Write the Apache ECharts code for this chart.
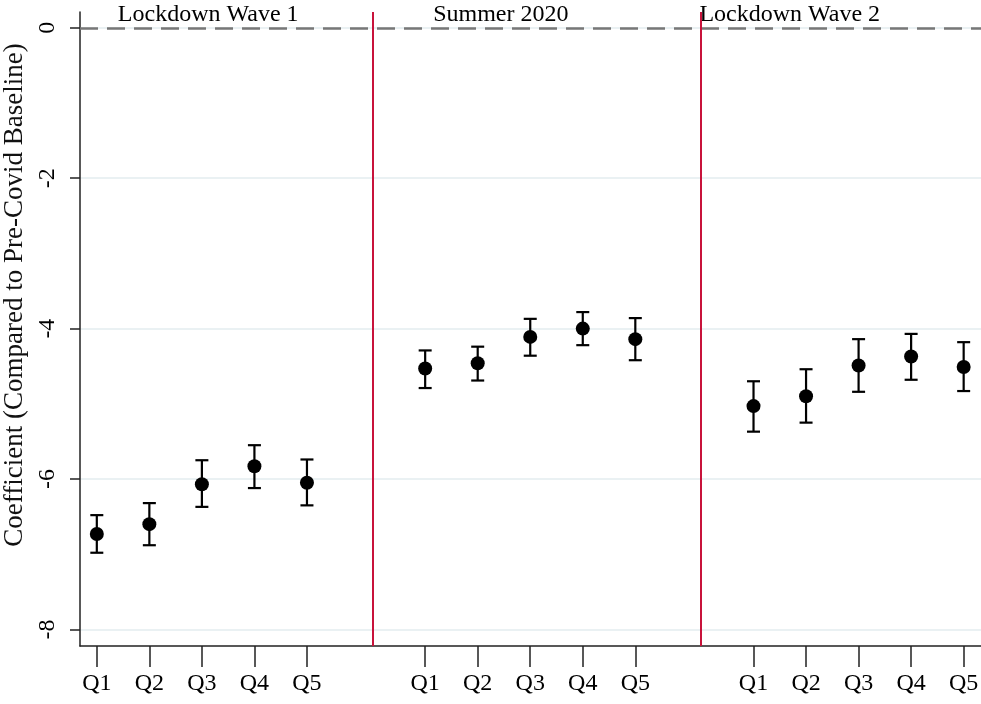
<!DOCTYPE html>
<html>
<head>
<meta charset="utf-8">
<script src="https://cdn.jsdelivr.net/npm/echarts@6/dist/echarts.min.js"></script>
<style>
  html, body { margin: 0; padding: 0; background: #fff; }
  #chart { width: 981px; height: 704px; }
</style>
</head>
<body>
<div id="chart"></div>
<script>
const quintiles = ['Q1', 'Q2', 'Q3', 'Q4', 'Q5'];
const periods = ['Lockdown Wave 1', 'Summer 2020', 'Lockdown Wave 2'];
// x of Q1 in each period, period breaks, title anchors
const periodStart = [1, 7.25, 13.5];
const breaks = [6.25, 12.5];
const titleX = [3.12, 8.69, 14.19];
const yTicks = [0, -2, -4, -6, -8];

const coef = [
    [-6.73, -6.60, -6.07, -5.83, -6.05],
    [-4.53, -4.46, -4.11, -4.00, -4.14],
    [-5.03, -4.90, -4.49, -4.37, -4.51]
];
const ciLow = [
    [-6.98, -6.88, -6.37, -6.12, -6.35],
    [-4.79, -4.69, -4.36, -4.22, -4.42],
    [-5.37, -5.25, -4.84, -4.68, -4.83]
];
const ciHigh = [
    [-6.48, -6.32, -5.75, -5.55, -5.74],
    [-4.29, -4.24, -3.87, -3.78, -3.86],
    [-4.70, -4.54, -4.14, -4.07, -4.18]
];

const font = 'Liberation Serif';
let xs = [], labelOf = [], points = [], bars = [];
periods.forEach((p, i) => {
    quintiles.forEach((q, j) => {
        let x = periodStart[i] + j;
        xs.push(x);
        labelOf.push([x, q]);
        points.push([x, coef[i][j]]);
        bars.push([x, ciLow[i][j], ciHigh[i][j]]);
    });
});

function qLabel(v) {
    for (let k = 0; k < labelOf.length; k++) {
        if (Math.abs(labelOf[k][0] - v) < 0.01) return labelOf[k][1];
    }
    return '';
}

let chart = echarts.init(document.getElementById('chart'));
chart.setOption({
    animation: false,
    grid: {left: 80, right: 0, top: 12, bottom: 58, outerBoundsMode: 'none'},
    xAxis: {
        type: 'value',
        min: 0.68,
        max: 17.83,
        splitLine: {show: false},
        axisLine: {show: true, onZero: false, lineStyle: {color: '#222', width: 1.5}},
        axisTick: {show: true, customValues: xs, length: 21, lineStyle: {color: '#222', width: 1.5}},
        axisLabel: {
            customValues: xs,
            formatter: qLabel,
            margin: 26,
            color: '#000',
            fontFamily: font,
            fontSize: 24
        }
    },
    yAxis: {
        type: 'value',
        min: -8.22,
        max: 0.21,
        name: 'Coefficient (Compared to Pre-Covid Baseline)',
        nameLocation: 'middle',
        nameRotate: 90,
        nameGap: 44,
        nameTextStyle: {color: '#111', fontFamily: font, fontSize: 27, padding: [0, 0, 0, 68]},
        splitLine: {show: true, lineStyle: {color: '#eaf1f3', width: 2}},
        axisLine: {show: true, onZero: false, lineStyle: {color: '#222', width: 1.5}},
        axisTick: {show: true, customValues: yTicks, length: 10, lineStyle: {color: '#222', width: 1.5}},
        axisLabel: {
            customValues: yTicks,
            rotate: 90,
            margin: 20,
            color: '#000',
            fontFamily: font,
            fontSize: 24
        }
    },
    series: [
        {
            type: 'custom',
            renderItem: function(params, api) {
                let lo = api.coord([api.value(0), api.value(1)]);
                let hi = api.coord([api.value(0), api.value(2)]);
                let w = 6.5;
                let st = {stroke: '#000', lineWidth: 2.2};
                return {
                    type: 'group',
                    children: [
                        {type: 'line', shape: {x1: lo[0], y1: lo[1], x2: hi[0], y2: hi[1]}, style: st},
                        {type: 'line', shape: {x1: lo[0] - w, y1: lo[1], x2: lo[0] + w, y2: lo[1]}, style: st},
                        {type: 'line', shape: {x1: hi[0] - w, y1: hi[1], x2: hi[0] + w, y2: hi[1]}, style: st}
                    ]
                };
            },
            encode: {x: 0, y: [1, 2]},
            data: bars,
            z: 3,
            markLine: {
                silent: true,
                symbol: 'none',
                label: {show: false},
                data: [
                    {yAxis: 0, lineStyle: {color: '#777', width: 2.5, type: [18, 9], opacity: 1}},
                    {xAxis: breaks[0], lineStyle: {color: '#c8133b', width: 2, type: 'solid', opacity: 1}},
                    {xAxis: breaks[1], lineStyle: {color: '#c8133b', width: 2, type: 'solid', opacity: 1}}
                ]
            }
        },
        {
            type: 'scatter',
            symbol: 'circle',
            symbolSize: 14,
            itemStyle: {color: '#000', opacity: 1},
            data: points,
            z: 4
        },
        {
            type: 'scatter',
            symbolSize: 0,
            silent: true,
            itemStyle: {opacity: 1},
            data: titleX.map((x, i) => ({value: [x, 0.17], name: periods[i]})),
            label: {
                show: true,
                position: 'inside',
                formatter: '{b}',
                color: '#000',
                fontFamily: font,
                fontSize: 24
            }
        }
    ]
});
</script>
</body>
</html>
